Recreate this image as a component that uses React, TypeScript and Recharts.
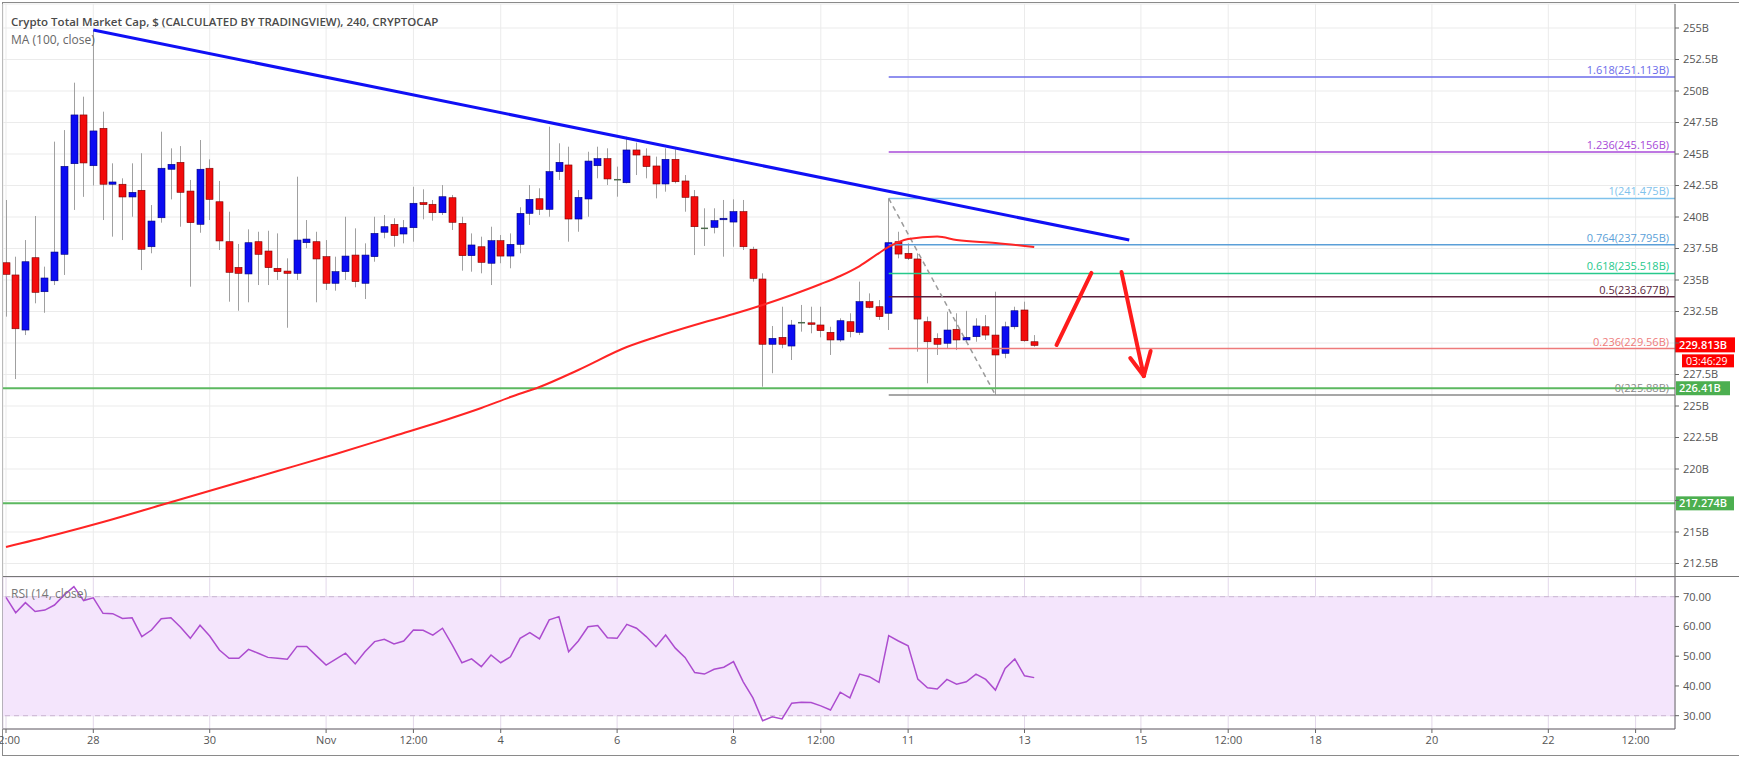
import React from 'react';
import {
    ComposedChart, Bar, Line, XAxis, YAxis, CartesianGrid,
    ReferenceLine, ReferenceArea
} from 'recharts';

// 4h candles, index 0 = Oct 26 12:00
const opens = [236.37, 235.40, 231.03, 236.77, 234.07, 234.94, 237.04, 244.23, 248.10, 244.07,
    247.04, 242.60, 242.60, 241.59, 242.12, 237.64, 239.94, 243.79, 244.34, 242.06,
    239.42, 243.87, 241.21, 238.04, 236.00, 235.48, 238.04, 237.30, 235.93, 235.71,
    235.53, 237.96, 238.04, 236.85, 234.74, 235.66, 236.98, 234.74, 236.85, 238.79,
    239.42, 238.65, 239.15, 241.14, 241.01, 240.34, 241.53, 239.50, 236.93, 237.64,
    236.33, 238.12, 236.90, 237.83, 240.29, 241.45, 240.61, 243.60, 244.13, 239.84,
    241.43, 244.07, 244.63, 242.96, 242.72, 245.32, 244.84, 244.05, 242.62, 244.58,
    242.86, 241.61, 239.10, 239.18, 239.80, 239.60, 240.43, 237.44, 235.08, 229.90,
    230.45, 229.76, 231.61, 231.60, 231.43, 230.85, 230.24, 231.69, 230.85, 233.28,
    232.88, 232.36, 238.04, 237.12, 236.67, 231.69, 230.37, 229.98, 231.09, 230.24,
    230.50, 231.29, 230.63, 229.18, 231.29, 232.62, 230.10];
const highs = [241.35, 236.85, 238.17, 240.08, 236.06, 245.98, 246.90, 250.66, 249.55, 254.84,
    248.36, 244.26, 243.07, 244.26, 245.06, 240.95, 246.77, 245.45, 245.63, 242.94,
    246.11, 244.58, 242.86, 240.42, 237.86, 239.02, 238.83, 238.91, 238.70, 236.72,
    243.20, 239.76, 238.83, 238.17, 236.85, 240.02, 239.10, 237.91, 240.02, 240.16,
    239.90, 239.76, 242.40, 242.20, 241.35, 242.54, 241.75, 240.02, 238.70, 238.44,
    239.23, 238.57, 238.70, 240.77, 242.54, 242.28, 247.17, 245.85, 245.58, 242.14,
    245.18, 245.58, 245.45, 244.00, 246.37, 245.90, 245.45, 244.79, 245.45, 245.37,
    243.33, 242.14, 240.69, 240.69, 241.35, 241.40, 241.35, 237.64, 235.53, 231.35,
    232.88, 231.83, 233.02, 232.88, 232.88, 231.29, 231.96, 232.36, 234.87, 233.94,
    233.41, 241.48, 238.83, 237.91, 237.12, 232.09, 230.77, 232.48, 232.36, 232.55,
    231.96, 232.22, 234.07, 231.69, 232.88, 233.28, 230.63];
const lows = [232.09, 227.14, 230.63, 233.15, 232.40, 234.60, 235.40, 240.56, 241.60, 242.50,
    239.76, 238.44, 238.17, 240.02, 235.79, 237.12, 239.55, 241.40, 239.23, 234.47,
    238.75, 239.76, 237.38, 233.28, 232.56, 233.23, 234.60, 234.60, 235.00, 231.21,
    235.00, 237.52, 233.23, 234.21, 234.15, 235.00, 234.42, 233.49, 236.45, 238.31,
    237.64, 237.91, 238.04, 239.82, 239.71, 240.16, 238.97, 235.74, 235.66, 235.53,
    234.60, 236.33, 235.93, 237.12, 239.37, 240.16, 240.02, 242.94, 238.04, 238.83,
    240.02, 243.07, 242.54, 241.61, 242.67, 243.33, 243.07, 241.48, 242.01, 242.67,
    240.42, 236.98, 237.70, 238.70, 236.85, 237.64, 237.38, 234.87, 226.53, 227.60,
    229.58, 228.65, 230.90, 230.77, 230.45, 229.05, 230.10, 230.45, 230.63, 232.75,
    231.83, 231.03, 236.72, 236.59, 229.31, 226.80, 229.05, 229.58, 229.44, 230.10,
    230.10, 230.24, 225.88, 228.79, 231.09, 230.10, 229.70];
const closes = [235.45, 231.13, 236.45, 234.02, 235.16, 237.22, 244.02, 248.10, 244.29, 246.83,
    242.60, 242.78, 241.59, 241.96, 237.44, 239.68, 243.87, 244.18, 241.96, 239.55,
    243.79, 241.40, 238.10, 235.61, 235.53, 237.96, 237.04, 235.98, 235.66, 235.53,
    238.17, 238.25, 236.67, 234.74, 235.66, 236.90, 234.87, 236.98, 238.70, 239.23,
    238.52, 239.15, 241.09, 240.98, 240.34, 241.61, 239.58, 236.93, 237.78, 236.40,
    238.12, 236.90, 237.83, 240.29, 241.40, 240.61, 243.60, 244.34, 239.84, 241.56,
    244.44, 244.63, 243.02, 242.96, 245.32, 244.92, 244.00, 242.62, 244.58, 242.80,
    241.56, 239.23, 239.10, 239.71, 239.90, 240.43, 237.64, 235.13, 229.90, 230.37,
    229.90, 231.43, 231.61, 231.52, 230.98, 230.24, 231.77, 230.90, 233.28, 232.83,
    232.09, 237.96, 237.06, 236.72, 231.90, 230.10, 229.90, 231.03, 230.24, 230.45,
    231.35, 230.63, 229.05, 231.29, 232.56, 230.18, 229.81];

// MA (100, close) read at a few candles
const maIdx = [0, 5, 10, 16, 22, 28, 34, 40, 45, 49, 52, 55, 59, 64, 67, 71, 75, 78, 81, 84, 86, 88, 90, 91, 93, 96, 98, 102, 106];
const maVals = [213.81, 214.76, 215.79, 217.14, 218.49, 219.84, 221.19, 222.62, 223.81, 224.84,
    225.71, 226.51, 227.86, 229.68, 230.48, 231.43, 232.30, 233.02, 233.81, 234.68,
    235.32, 236.11, 237.14, 237.62, 238.25, 238.45, 238.17, 237.94, 237.62];

// RSI (14, close)
const rsiVals = [69.8, 64.6, 68.0, 65.0, 65.5, 67.2, 70.6, 73.4, 68.7, 69.6,
    64.4, 64.3, 62.7, 62.9, 56.6, 58.8, 62.6, 62.9, 59.7, 56.0,
    60.4, 56.8, 52.1, 49.3, 49.3, 52.3, 51.0, 49.6, 49.3, 49.0,
    53.3, 53.3, 50.1, 47.0, 49.0, 51.0, 47.4, 51.5, 54.9, 55.7,
    54.1, 55.1, 58.8, 58.7, 57.1, 59.4, 53.8, 47.8, 49.1, 46.5,
    50.4, 47.8, 49.8, 56.0, 57.9, 55.8, 62.2, 63.3, 51.5, 55.1,
    59.9, 60.3, 56.2, 56.0, 60.7, 59.4, 56.6, 53.2, 57.1, 52.7,
    49.6, 44.5, 44.0, 45.6, 46.3, 48.2, 41.4, 36.0, 28.3, 29.6,
    28.9, 34.2, 34.5, 34.4, 33.3, 31.9, 37.9, 36.0, 44.0, 43.1,
    41.2, 56.9, 55.1, 53.5, 42.3, 39.4, 39.0, 42.2, 40.6, 41.4,
    44.0, 42.2, 38.6, 45.9, 49.1, 43.4, 42.8];

const timeTicks = [0, 9, 21, 33, 42, 51, 63, 75, 84, 93, 105, 117, 126, 135, 147, 159, 168];
const timeLabels = ['12:00', '28', '30', 'Nov', '12:00', '4', '6', '8', '12:00', '11', '13', '15', '12:00', '18', '20', '22', '12:00'];
const priceTicks = [212.5, 215, 217.5, 220, 222.5, 225, 227.5, 230, 232.5, 235, 237.5, 240, 242.5, 245, 247.5, 250, 252.5, 255];
const hiddenPriceLabels = [217.5, 230]; // covered by the axis boxes
const rsiTicks = [30, 40, 50, 60, 70];

const fibRatios = ['1.618', '1.236', '1', '0.764', '0.618', '0.5', '0.236', '0'];
const fibPrices = [251.113, 245.156, 241.475, 237.795, 235.518, 233.677, 229.56, 225.88];
const fibColors = ['#6b6bea', '#a84ad8', '#7fc2ec', '#5b9fd8', '#27c98c', '#5a1f3c', '#ee7b7b', '#8a8a8a'];
const fibStart = 91;

const supportLevels = [226.41, 217.274];
const lastPrice = 229.813;
const countdown = '03:46:29';

const trendLine = [{ x: 9, y: 254.84 }, { x: 115.8, y: 238.17 }];
const fibSwing = [{ x: 91, y: 241.475 }, { x: 102, y: 225.88 }];
const arrowUp = [{ x: 108.3, y: 229.84 }, { x: 111.9, y: 235.56 }];
const arrowDown = [{ x: 115.0, y: 235.63 }, { x: 117.3, y: 227.38 }];
const arrowHeadL = [{ x: 115.9, y: 228.81 }, { x: 117.3, y: 227.38 }];
const arrowHeadR = [{ x: 118.0, y: 229.37 }, { x: 117.3, y: 227.38 }];

const candles = opens.map((o, i) => ({
    i, o, h: highs[i], l: lows[i], c: closes[i],
    ma: maIdx.includes(i) ? maVals[maIdx.indexOf(i)] : null,
    rsi: rsiVals[i],
}));

const X_DOMAIN: [number, number] = [-0.31, 172.06];
const FONT = '"Open Sans", Lato, sans-serif';
const AXT = { fontSize: 11, fill: '#555' };
const GRID = '#ebebeb';

const Candle = (props: any) => {
    const { x, y, width, height, payload } = props;
    if (!payload) return null;
    const { o, h, l, c } = payload;
    const top = Math.min(y, y + height);
    const hh = Math.abs(height);
    const k = h > l ? hh / (h - l) : 0;
    const cx = Math.round(x + width / 2) + 0.5;
    const bTop = top + (h - Math.max(o, c)) * k;
    const bBot = top + (h - Math.min(o, c)) * k;
    const doji = Math.abs(c - o) < 0.02;
    const up = c > o;
    return (
        <g>
            <line x1={cx} x2={cx} y1={top} y2={top + hh} stroke="#a0a0a0" strokeWidth={1} />
            {doji
                ? <line x1={cx - 3.5} x2={cx + 3.5} y1={bTop} y2={bTop} stroke="#4d6b4d" strokeWidth={1.5} />
                : <rect x={cx - 3.5} y={bTop} width={7} height={Math.max(bBot - bTop, 1.5)}
                    fill={up ? '#0b0bf2' : '#f20b0b'} stroke={up ? '#00007a' : '#7a0000'} strokeWidth={0.6} />}
        </g>
    );
};

const FibLabel = ({ viewBox, text, color }: any) => {
    if (!viewBox) return null;
    return (
        <text x={viewBox.x + viewBox.width - 6} y={viewBox.y - 3} textAnchor="end"
            fill={color} fontSize={11} fontFamily={FONT}>{text}</text>
    );
};

const AxisBox = ({ viewBox, text, color, w }: any) => {
    if (!viewBox) return null;
    const x0 = viewBox.x + viewBox.width + 1;
    return (
        <g>
            <rect x={x0} y={viewBox.y - 7} width={w} height={14} fill={color} />
            <text x={x0 + 3} y={viewBox.y + 4} fill="#fff" fontSize={11} fontWeight={600} fontFamily={FONT}>{text}</text>
        </g>
    );
};

const LastBox = ({ viewBox }: any) => {
    if (!viewBox) return null;
    const x0 = viewBox.x + viewBox.width;
    return (
        <g>
            <rect x={x0} y={viewBox.y - 8} width={60} height={15} fill="#ff0000" />
            <text x={x0 + 4} y={viewBox.y + 4} fill="#fff" fontSize={11} fontWeight={600} fontFamily={FONT}>{`${lastPrice}B`}</text>
            <rect x={x0 + 7} y={viewBox.y + 9} width={52} height={13} fill="#ff0000" />
            <text x={x0 + 11} y={viewBox.y + 19.5} fill="#fff" fontSize={10.5} fontFamily={FONT}>{countdown}</text>
        </g>
    );
};

const tickLabel = (v: number) => timeLabels[timeTicks.indexOf(v)] ?? '';
const priceLabel = (v: number) => (hiddenPriceLabels.includes(v) ? '' : `${v}B`);

export default function App() {
    return (
        <div style={{ position: 'absolute', left: 0, top: 0, width: 1739, height: 759, background: '#fff', fontFamily: FONT, overflow: 'hidden' }}>
            <div style={{ position: 'absolute', left: 2, top: 2, width: 1740, height: 754, border: '1px solid #8a8a8a', boxSizing: 'border-box' }} />

            <div style={{ position: 'absolute', top: 0, left: 0 }}>
                <ComposedChart width={1739} height={578} data={candles} margin={{ top: 4, right: 0, left: 3, bottom: 1 }}>
                    <CartesianGrid stroke={GRID} />
                    <XAxis type="number" dataKey="i" domain={X_DOMAIN} ticks={timeTicks} allowDataOverflow hide />
                    <YAxis orientation="right" width={64} domain={[211.429, 256.905]} ticks={priceTicks} allowDataOverflow
                        tickFormatter={priceLabel} tick={AXT} tickSize={4} tickMargin={4}
                        axisLine={{ stroke: '#666' }} tickLine={{ stroke: '#666' }} />
                    {fibPrices.map((p, k) => (
                        <ReferenceLine key={p} segment={[{ x: fibStart, y: p }, { x: X_DOMAIN[1], y: p }]}
                            stroke={fibColors[k]} strokeWidth={1.5}
                            label={<FibLabel text={`${fibRatios[k]}(${p}B)`} color={fibColors[k]} />} />
                    ))}
                    <ReferenceLine segment={fibSwing} stroke="#9a9a9a" strokeWidth={1.5} strokeDasharray="5 4" />
                    {supportLevels.map((p) => (
                        <ReferenceLine key={p} y={p} stroke="#5cb860" strokeWidth={2}
                            label={<AxisBox text={`${p}B`} color="#4caf50" w={p > 220 ? 54 : 58} />} />
                    ))}
                    <Bar dataKey={(d: any) => [d.l, d.h]} barSize={7} shape={<Candle />} isAnimationActive={false} />
                    <Line dataKey="ma" type="monotone" stroke="#ff2424" strokeWidth={2} dot={false} connectNulls isAnimationActive={false} />
                    <ReferenceLine segment={trendLine} stroke="#1010f5" strokeWidth={3} />
                    <ReferenceLine segment={arrowUp} stroke="#ff1c1c" strokeWidth={4} strokeLinecap="round" />
                    <ReferenceLine segment={arrowDown} stroke="#ff1c1c" strokeWidth={4} strokeLinecap="round" />
                    <ReferenceLine segment={arrowHeadL} stroke="#ff1c1c" strokeWidth={4} strokeLinecap="round" />
                    <ReferenceLine segment={arrowHeadR} stroke="#ff1c1c" strokeWidth={4} strokeLinecap="round" />
                    <ReferenceLine y={lastPrice} stroke="none" label={<LastBox />} />
                </ComposedChart>
            </div>

            <div style={{ position: 'absolute', top: 577, left: 0 }}>
                <ComposedChart width={1739} height={182} data={candles} margin={{ top: 0, right: 0, left: 3, bottom: 4 }}>
                    <ReferenceArea y1={30} y2={70} fill="#f4e5fc" fillOpacity={1} stroke="none" />
                    <CartesianGrid stroke="#e3d8ea" />
                    <XAxis type="number" dataKey="i" domain={X_DOMAIN} ticks={timeTicks} allowDataOverflow height={26}
                        interval={0} tickFormatter={tickLabel} tick={AXT} tickSize={4} tickMargin={3}
                        axisLine={{ stroke: '#666' }} tickLine={{ stroke: '#666' }} />
                    <YAxis orientation="right" width={64} domain={[25.53, 76.62]} ticks={rsiTicks} allowDataOverflow
                        tickFormatter={(v: number) => v.toFixed(2)} tick={AXT} tickSize={4} tickMargin={4}
                        axisLine={{ stroke: '#666' }} tickLine={{ stroke: '#666' }} />
                    <ReferenceLine y={70} stroke="#c9b6d2" strokeDasharray="5 4" />
                    <ReferenceLine y={30} stroke="#c9b6d2" strokeDasharray="5 4" />
                    <Line dataKey="rsi" type="linear" stroke="#ac4ccf" strokeWidth={1.5} dot={false} isAnimationActive={false} />
                </ComposedChart>
            </div>

            <div style={{ position: 'absolute', left: 3, top: 576, width: 1736, height: 1, background: '#777' }} />

            <div style={{ position: 'absolute', left: 11, top: 14, fontSize: 11.5, fontWeight: 600, color: '#4a4a4a', whiteSpace: 'nowrap', lineHeight: '16px' }}>
                Crypto Total Market Cap, $ (CALCULATED BY TRADINGVIEW), 240, CRYPTOCAP
            </div>
            <div style={{ position: 'absolute', left: 11, top: 32, fontSize: 12, color: '#666', whiteSpace: 'nowrap', lineHeight: '16px' }}>
                MA (100, close)
            </div>
            <div style={{ position: 'absolute', left: 11, top: 586, fontSize: 12, color: '#777', whiteSpace: 'nowrap', lineHeight: '16px' }}>
                RSI (14, close)
            </div>
        </div>
    );
}
